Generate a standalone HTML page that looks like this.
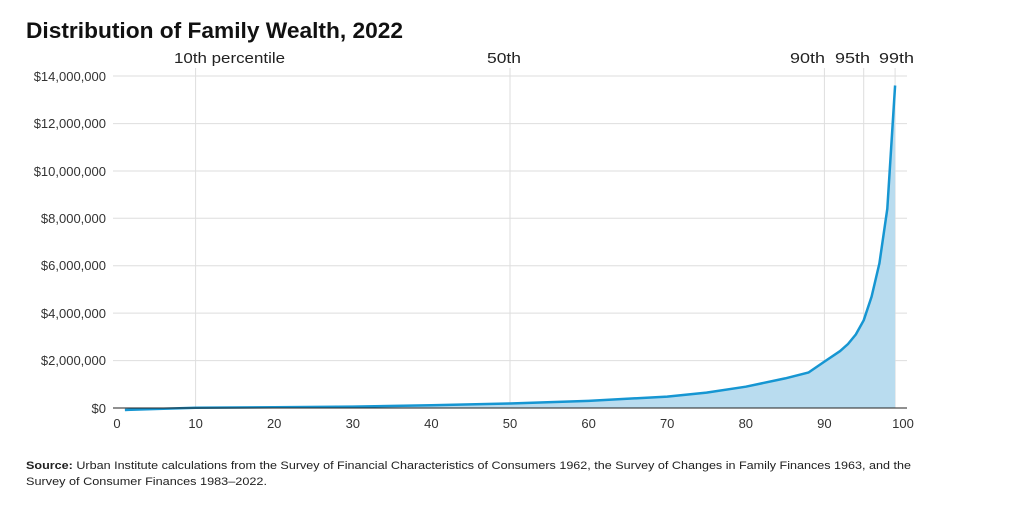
<!DOCTYPE html>
<html><head><meta charset="utf-8"><style>
body{margin:0;background:#fff;width:1022px;height:517px;overflow:hidden;font-family:"Liberation Sans",sans-serif;}
</style></head><body>
<svg width="1022" height="517" xmlns="http://www.w3.org/2000/svg" font-family="Liberation Sans, sans-serif">
<text x="26" y="38" font-size="22" font-weight="bold" fill="#111" textLength="377" lengthAdjust="spacingAndGlyphs">Distribution of Family Wealth, 2022</text>
<g stroke="#dedede" stroke-width="1">
<line x1="113" x2="907" y1="76" y2="76"/><line x1="113" x2="907" y1="123.6" y2="123.6"/>
<line x1="113" x2="907" y1="171" y2="171"/><line x1="113" x2="907" y1="218.3" y2="218.3"/>
<line x1="113" x2="907" y1="265.7" y2="265.7"/><line x1="113" x2="907" y1="313.1" y2="313.1"/>
<line x1="113" x2="907" y1="360.6" y2="360.6"/>
<line x1="195.6" x2="195.6" y1="68" y2="408"/><line x1="510" x2="510" y1="68" y2="408"/>
<line x1="824.4" x2="824.4" y1="68" y2="408"/><line x1="863.7" x2="863.7" y1="68" y2="408"/>
<line x1="895.1" x2="895.1" y1="68" y2="408"/>
</g>
<g font-size="13" fill="#333" text-anchor="end">
<text x="106" y="81">$14,000,000</text><text x="106" y="128">$12,000,000</text>
<text x="106" y="176">$10,000,000</text><text x="106" y="223">$8,000,000</text>
<text x="106" y="270">$6,000,000</text><text x="106" y="318">$4,000,000</text>
<text x="106" y="365">$2,000,000</text><text x="106" y="413">$0</text>
</g>
<g font-size="15" fill="#222">
<text x="174" y="63" textLength="111" lengthAdjust="spacingAndGlyphs">10th percentile</text>
<text x="487" y="63" textLength="34" lengthAdjust="spacingAndGlyphs">50th</text>
<text x="790" y="63" textLength="35" lengthAdjust="spacingAndGlyphs">90th</text>
<text x="835" y="63" textLength="35" lengthAdjust="spacingAndGlyphs">95th</text>
<text x="879" y="63" textLength="35" lengthAdjust="spacingAndGlyphs">99th</text>
</g>
<path fill="#b9dcef" d="M124.9,410 L195.6,407.8 L274.2,407.3 L352.8,406.6 L431.4,405.2 L510,403.5 L588.6,400.9 L667.2,396.6 L706.5,392.6 L745.8,386.7 L785.1,378.4 L808.7,372.4 L824.4,361.6 L840.1,351.1 L848,344 L855.8,334.5 L863.7,320.3 L871.6,296.6 L879.4,263.4 L887.3,208.8 L895.1,85.5 L895.1,408 L124.9,408 Z"/>
<path fill="none" stroke="#1696d2" stroke-width="2.5" stroke-linejoin="round" d="M124.9,410 L195.6,407.8 L274.2,407.3 L352.8,406.6 L431.4,405.2 L510,403.5 L588.6,400.9 L667.2,396.6 L706.5,392.6 L745.8,386.7 L785.1,378.4 L808.7,372.4 L824.4,361.6 L840.1,351.1 L848,344 L855.8,334.5 L863.7,320.3 L871.6,296.6 L879.4,263.4 L887.3,208.8 L895.1,85.5"/>
<line x1="113" x2="907" y1="408" y2="408" stroke="#222" stroke-width="1"/>
<g font-size="13" fill="#333" text-anchor="middle">
<text x="117" y="428">0</text><text x="195.6" y="428">10</text><text x="274.2" y="428">20</text>
<text x="352.8" y="428">30</text><text x="431.4" y="428">40</text><text x="510" y="428">50</text>
<text x="588.6" y="428">60</text><text x="667.2" y="428">70</text><text x="745.8" y="428">80</text>
<text x="824.4" y="428">90</text><text x="903" y="428">100</text>
</g>
<g font-size="11" fill="#222">
<text x="26" y="469" textLength="885" lengthAdjust="spacingAndGlyphs"><tspan font-weight="bold">Source:</tspan> Urban Institute calculations from the Survey of Financial Characteristics of Consumers 1962, the Survey of Changes in Family Finances 1963, and the</text>
<text x="26" y="485" textLength="241" lengthAdjust="spacingAndGlyphs">Survey of Consumer Finances 1983–2022.</text>
</g>
</svg>
</body></html>
